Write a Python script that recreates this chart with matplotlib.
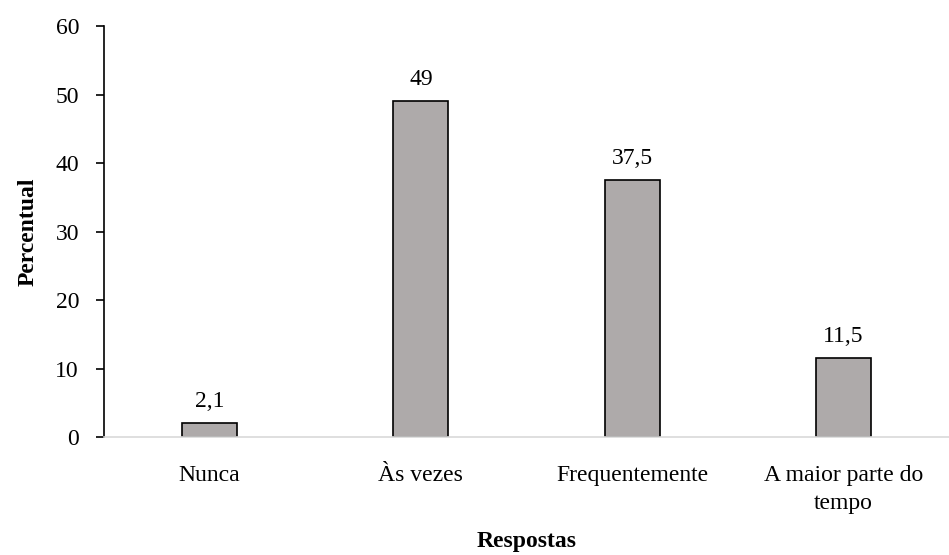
import matplotlib.pyplot as plt

categorias = ['Nunca', 'Às vezes', 'Frequentemente', 'A maior parte do\ntempo']
valores = [2.1, 49, 37.5, 11.5]
rotulos = ['2,1', '49', '37,5', '11,5']

plt.rcParams['font.family'] = ['Liberation Serif', 'DejaVu Serif']

fig = plt.figure(figsize=(9.49, 5.55), dpi=100)
ax = fig.add_axes([0.1096, 0.2126, 0.8904, 0.7404])

x = range(len(categorias))
barras = ax.bar(x, valores, width=0.26, color='#aeaaaa', edgecolor='black', linewidth=1.2)

for b, r in zip(barras, rotulos):
    ax.text(b.get_x() + b.get_width() / 2, b.get_height() + 1.6, r,
            ha='center', va='bottom', fontsize=17)

ax.set_xlim(-0.5, 3.5)
ax.set_ylim(0, 60)
ax.set_yticks(range(0, 61, 10))
ax.set_xticks(list(x))
ax.set_xticklabels(categorias, fontsize=17, linespacing=1.45)
ax.tick_params(axis='y', labelsize=17, length=6, width=1.2, pad=12)
ax.tick_params(axis='x', length=0, pad=20)

ax.spines['top'].set_visible(False)
ax.spines['right'].set_visible(False)
ax.spines['left'].set_linewidth(1.2)
ax.spines['bottom'].set_color('#d9d9d9')
ax.spines['bottom'].set_linewidth(1.2)

ax.set_ylabel('Percentual', fontsize=17, fontweight='bold', labelpad=12)
ax.set_xlabel('Respostas', fontsize=17, fontweight='bold', labelpad=12)

fig.savefig('out.png', dpi=100)
